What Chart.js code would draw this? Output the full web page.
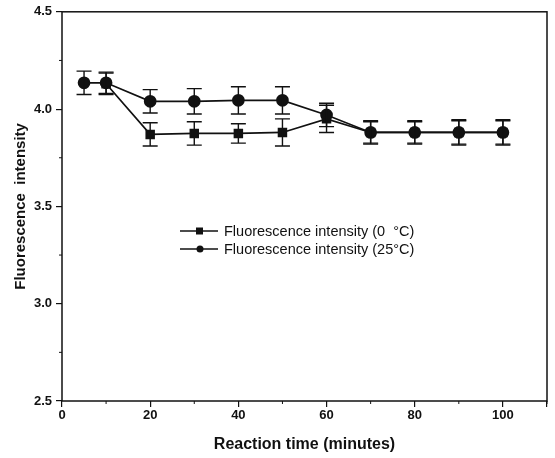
<!DOCTYPE html>
<html>
<head>
<meta charset="utf-8">
<script src="https://cdn.jsdelivr.net/npm/chart.js@4.4.1/dist/chart.umd.min.js"></script>
<style>
  html, body { margin: 0; padding: 0; background: #fff; }
  #wrap { width: 555px; height: 458px; }
</style>
</head>
<body>
<div id="wrap"><canvas id="fluoChart" width="555" height="458"></canvas></div>
<script>
// reaction time (minutes)
const times = [5, 10, 20, 30, 40, 50, 60, 70, 80, 90, 100];

// 0 °C series (squares) - no reading at 5 min
const cold = [null, 4.13, 3.87, 3.875, 3.875, 3.88, 3.95, 3.88, 3.88, 3.88, 3.88];
const coldErr = [0, 0.055, 0.06, 0.06, 0.05, 0.07, 0.07, 0.06, 0.06, 0.065, 0.065];

// 25 °C series (circles)
const warm = [4.135, 4.135, 4.04, 4.04, 4.045, 4.045, 3.97, 3.88, 3.88, 3.88, 3.88];
const warmErr = [0.06, 0.055, 0.06, 0.065, 0.07, 0.07, 0.06, 0.055, 0.055, 0.06, 0.06];

const legendLabels = ['Fluorescence intensity (0  \u00B0C)', 'Fluorescence intensity (25\u00B0C)'];

const xMinorTicks = [10, 30, 50, 70, 90, 110];
const yMinorTicks = [2.75, 3.25, 3.75, 4.25];

function toPoints(ys) {
    return times.map((t, i) => ({ x: t, y: ys[i] })).filter(p => p.y !== null);
}
function toErrs(ys, errs) {
    return ys.map((v, i) => v === null ? null : errs[i]).filter(e => e !== null);
}

const ink = '#111';

// 🔹 error bars, frame, minor ticks, legend
const decorPlugin = {
    id: 'decor',
    afterDatasetsDraw(chart) {
        const ctx = chart.ctx;
        const xs = chart.scales.x;
        const ys = chart.scales.y;
        const area = chart.chartArea;

        ctx.save();
        ctx.strokeStyle = ink;
        ctx.lineWidth = 1.4;
        chart.data.datasets.forEach(ds => {
            ds.data.forEach((p, i) => {
                const e = ds.errors[i];
                const px = xs.getPixelForValue(p.x);
                const top = ys.getPixelForValue(p.y + e);
                const bot = ys.getPixelForValue(p.y - e);
                ctx.beginPath();
                ctx.moveTo(px, top); ctx.lineTo(px, bot);
                ctx.moveTo(px - 7.5, top); ctx.lineTo(px + 7.5, top);
                ctx.moveTo(px - 7.5, bot); ctx.lineTo(px + 7.5, bot);
                ctx.stroke();
            });
        });

        // frame
        ctx.lineWidth = 1.5;
        ctx.strokeRect(area.left, area.top, area.right - area.left, area.bottom - area.top);

        // minor ticks
        ctx.lineWidth = 1;
        ctx.beginPath();
        xMinorTicks.forEach(v => {
            const px = xs.getPixelForValue(v);
            ctx.moveTo(px, area.bottom); ctx.lineTo(px, area.bottom + 3);
        });
        yMinorTicks.forEach(v => {
            const py = ys.getPixelForValue(v);
            ctx.moveTo(area.left, py); ctx.lineTo(area.left - 3, py);
        });
        ctx.stroke();

        // legend
        const rows = [
            { y: 231, style: 'rect', label: legendLabels[0] },
            { y: 249, style: 'circle', label: legendLabels[1] }
        ];
        ctx.font = '14.5px "Liberation Sans", Arial, sans-serif';
        ctx.fillStyle = ink;
        ctx.textBaseline = 'middle';
        rows.forEach(r => {
            ctx.lineWidth = 1.5;
            ctx.beginPath();
            ctx.moveTo(180, r.y); ctx.lineTo(218, r.y);
            ctx.stroke();
            ctx.beginPath();
            if (r.style === 'rect') {
                ctx.rect(196, r.y - 3.5, 7, 7);
            } else {
                ctx.arc(200, r.y, 3.5, 0, Math.PI * 2);
            }
            ctx.fill();
            ctx.fillText(r.label, 224, r.y + 1);
        });
        ctx.restore();
    }
};

const tickFont = { family: '"Liberation Sans", Arial, sans-serif', size: 13, weight: 'bold' };
const titleFont = { family: '"Liberation Sans", Arial, sans-serif', size: 16, weight: 'bold' };

new Chart(document.getElementById('fluoChart'), {
    type: 'line',
    data: {
        datasets: [
            {
                label: legendLabels[1],
                data: toPoints(warm),
                errors: toErrs(warm, warmErr),
                borderColor: ink,
                backgroundColor: ink,
                borderWidth: 1.7,
                pointStyle: 'circle',
                pointRadius: 5.5,
                tension: 0
            },
            {
                label: legendLabels[0],
                data: toPoints(cold),
                errors: toErrs(cold, coldErr),
                borderColor: ink,
                backgroundColor: ink,
                borderWidth: 1.7,
                pointStyle: 'rect',
                pointRadius: 5.5,
                tension: 0
            }
        ]
    },
    options: {
        responsive: false,
        animation: false,
        layout: { padding: { top: 11, right: 8, left: 8, bottom: 0 } },
        plugins: {
            legend: { display: false },
            tooltip: { enabled: false }
        },
        scales: {
            x: {
                type: 'linear',
                min: 0,
                max: 110,
                border: { display: false },
                grid: { drawOnChartArea: false, tickLength: 6, color: ink, lineWidth: 1.2 },
                ticks: {
                    stepSize: 20,
                    color: ink,
                    font: tickFont,
                    padding: 1,
                    maxRotation: 0,
                    callback: v => v <= 100 ? v : ''
                },
                title: { display: true, text: 'Reaction time (minutes)', color: ink, font: titleFont, padding: { top: 10 } },
                afterFit: scale => { scale.height = 57; }
            },
            y: {
                min: 2.5,
                max: 4.5,
                border: { display: false },
                grid: { drawOnChartArea: false, tickLength: 6, color: ink, lineWidth: 1.2 },
                ticks: {
                    stepSize: 0.5,
                    color: ink,
                    font: tickFont,
                    padding: 4,
                    callback: v => v.toFixed(1)
                },
                title: { display: true, text: 'Fluorescence  intensity', color: ink, font: { family: titleFont.family, size: 15, weight: 'bold' }, padding: { bottom: 2 } },
                afterFit: scale => { scale.width = 54; }
            }
        }
    },
    plugins: [decorPlugin]
});
</script>
</body>
</html>
